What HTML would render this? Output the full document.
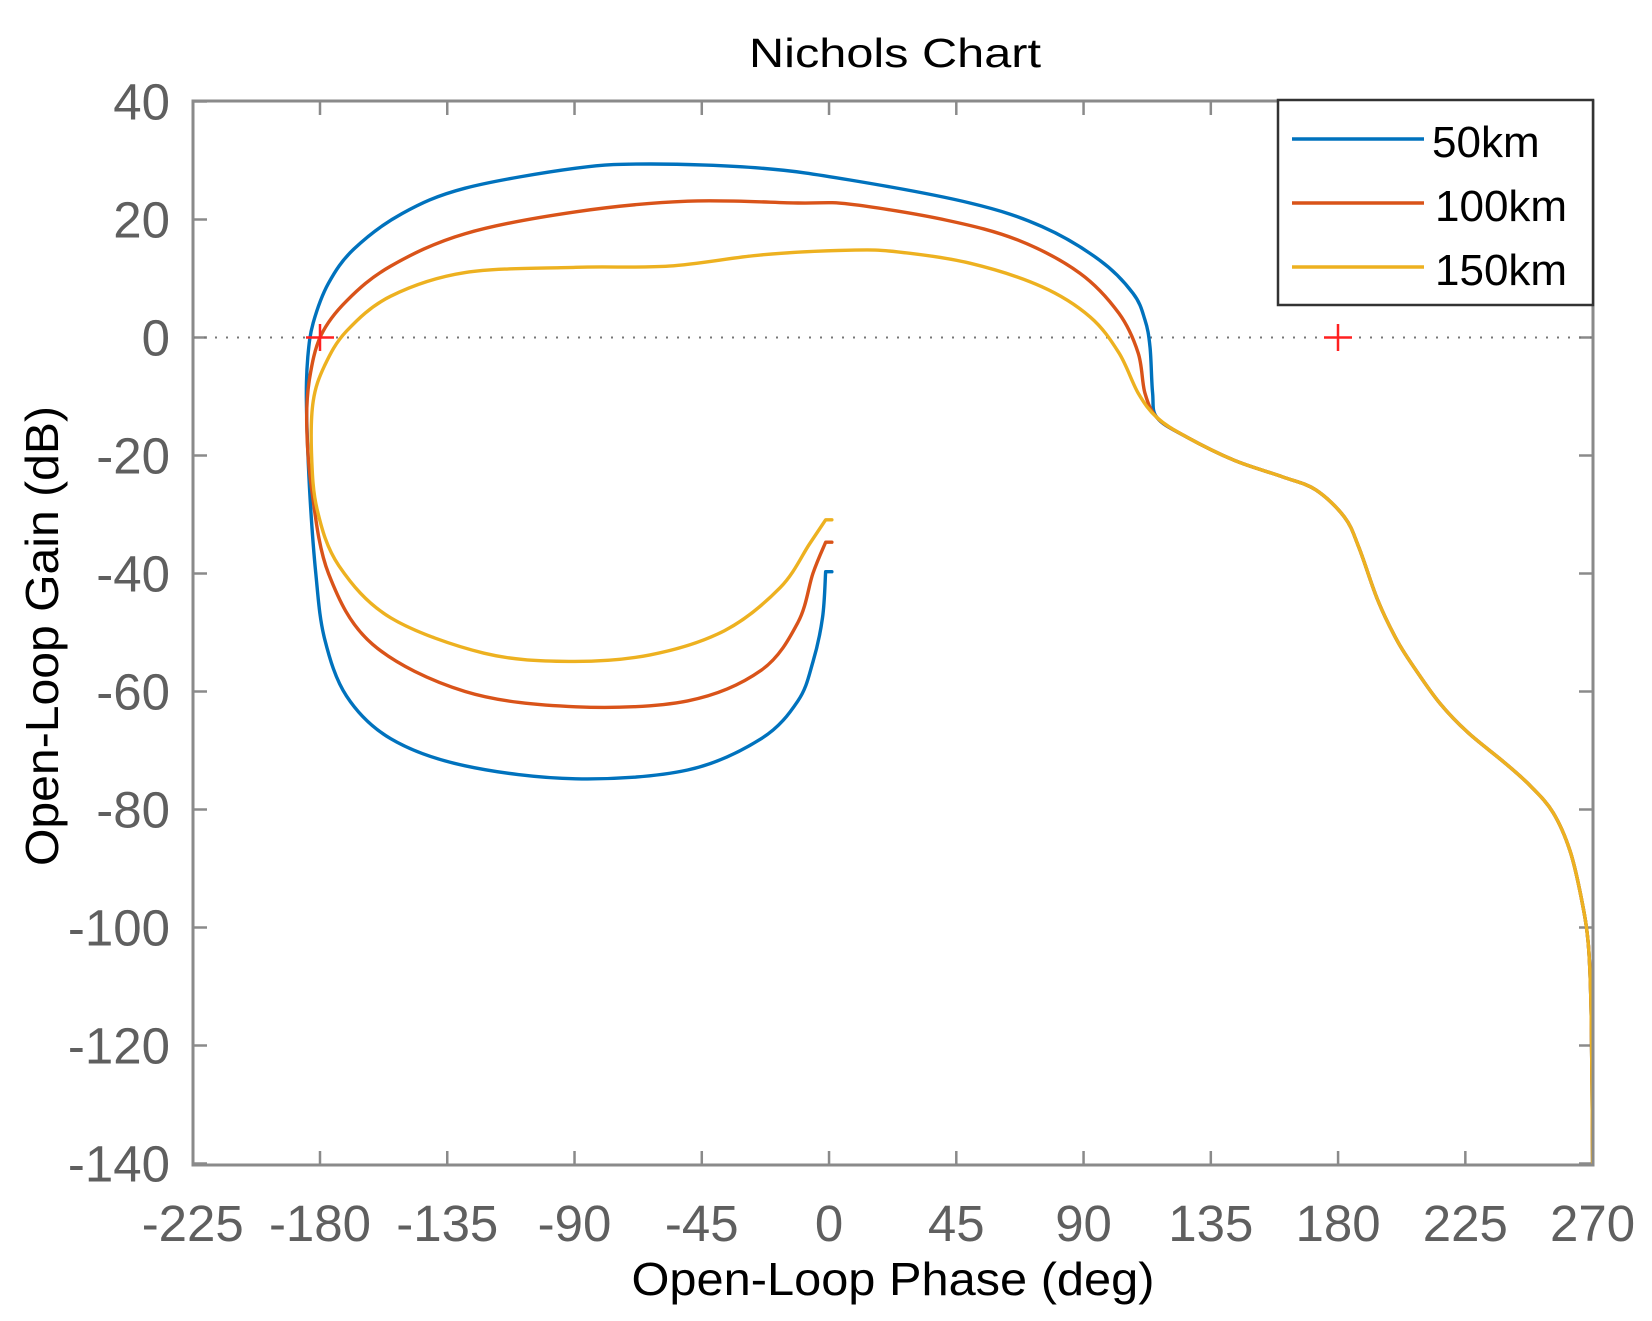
<!DOCTYPE html>
<html><head><meta charset="utf-8"><style>
html,body{margin:0;padding:0;background:#fff;}
svg{display:block;}
text{font-family:"Liberation Sans",Arial,sans-serif;}
</style></head><body>
<svg id="s" width="1652" height="1321" viewBox="0 0 1652 1321" xmlns="http://www.w3.org/2000/svg">
<rect width="1652" height="1321" fill="#fff"/>
<text x="895" y="67" font-size="41" text-anchor="middle" fill="#000" textLength="292" lengthAdjust="spacingAndGlyphs">Nichols Chart</text>
<g id="ticks"></g>
<line x1="193" y1="337.5" x2="1593" y2="337.5" stroke="#777" stroke-width="2" stroke-dasharray="2,9"/>
<g id="curves" fill="none" stroke-width="3.4" stroke-linejoin="round" stroke-linecap="round"></g>
<g stroke="#ff2020" stroke-width="2.5">
<line x1="306" y1="337.5" x2="334" y2="337.5"/><line x1="320" y1="324" x2="320" y2="351"/>
<line x1="1324" y1="337.5" x2="1352" y2="337.5"/><line x1="1338" y1="324" x2="1338" y2="351"/>
</g>
<rect x="193" y="101" width="1400" height="1064" fill="none" stroke="#8a8a8a" stroke-width="3"/>
<rect x="1278" y="100" width="315" height="205" fill="#fff" stroke="#333" stroke-width="2.5"/>
<line x1="1292" y1="139" x2="1424" y2="139" stroke="#0072BD" stroke-width="3.5"/>
<line x1="1292" y1="203" x2="1424" y2="203" stroke="#D95319" stroke-width="3.5"/>
<line x1="1292" y1="267" x2="1424" y2="267" stroke="#EDB120" stroke-width="3.5"/>
<text x="1432" y="157" font-size="44" fill="#000">50km</text>
<text x="1435" y="221" font-size="44" fill="#000">100km</text>
<text x="1435" y="285" font-size="44" fill="#000">150km</text>
<text x="893" y="1295" font-size="46" text-anchor="middle" fill="#000" textLength="523" lengthAdjust="spacingAndGlyphs">Open-Loop Phase (deg)</text>
<text transform="translate(58,636) rotate(-90)" font-size="46" text-anchor="middle" fill="#000" textLength="460" lengthAdjust="spacingAndGlyphs">Open-Loop Gain (dB)</text>
</svg>
<script>
const NS="http://www.w3.org/2000/svg";
const X=p=>320+(p+180)*2.828, Y=g=>337.5-g*5.9;
const tk=document.getElementById('ticks');
function el(t,a,txt){const e=document.createElementNS(NS,t);for(const k in a)e.setAttribute(k,a[k]);if(txt!==undefined)e.textContent=txt;tk.appendChild(e);return e;}
for(let p=-225;p<=270;p+=45){const x=X(p);
 el('line',{x1:x,y1:1165,x2:x,y2:1151,stroke:'#8a8a8a','stroke-width':2.5});
 el('line',{x1:x,y1:101,x2:x,y2:115,stroke:'#8a8a8a','stroke-width':2.5});
 el('text',{x:x,y:1241,'font-size':51,'text-anchor':'middle',fill:'#5f5f5f'},String(p));}
for(let g=40;g>=-140;g-=20){const y=Y(g);
 el('line',{x1:193,y1:y,x2:207,y2:y,stroke:'#8a8a8a','stroke-width':2.5});
 el('line',{x1:1593,y1:y,x2:1579,y2:y,stroke:'#8a8a8a','stroke-width':2.5});
 el('text',{x:170,y:y+18,'font-size':51,'text-anchor':'end',fill:'#5f5f5f'},String(g));}
const tail=[[116,-13.6],[126.2,-16.8],[143.2,-20.8],[160.2,-23.6],[172,-25.8],[182.2,-30.4],[187.3,-35.5],[194,-44.5],[200.8,-51.3],[207,-56],[216,-62],[226,-67],[238.7,-72],[248,-76],[256,-80.5],[262,-87],[266,-95],[268.5,-103],[269.5,-115],[270,-140]];
const blue=[[-1.2,-39.7],[-2.3,-47.5],[-5.7,-55],[-11,-61.6],[-24,-68],[-50,-73.3],[-89.5,-74.8],[-128.7,-72.6],[-155,-68],[-170.6,-60.8],[-178.4,-51],[-181.5,-40],[-183.7,-25.5],[-184.8,-10.8],[-184.3,-3.3],[-182.4,2.5],[-177,9.2],[-168,15],[-151,21],[-128.7,25.3],[-89.5,28.7],[-63,29.4],[-24,28.7],[7.4,26.7],[49.8,22.8],[75.3,18.8],[95.7,13.1],[107.5,7.5],[111.7,3],[113.5,-1.6],[114.4,-9.4]].concat(tail);
const red=[[-1.2,-34.7],[-5.7,-40],[-11,-48.3],[-24,-56.4],[-50,-61.6],[-89.5,-62.6],[-128.7,-60],[-161.4,-52],[-177,-40],[-183,-25.5],[-184.7,-14.4],[-183.7,-7],[-179.7,0.3],[-170.6,6.2],[-155,12.1],[-128.7,17.6],[-89.5,21.3],[-50,23.1],[-11,22.8],[7.4,22.6],[41.4,19.9],[66.8,16.5],[88.7,10.9],[102.5,4.1],[109.3,-2.6],[111.7,-9.4]].concat(tail);
const yel=[[-1.2,-30.9],[-6.9,-35],[-17.3,-42.4],[-37,-49.7],[-63.3,-53.8],[-92,-54.9],[-122,-53.5],[-155,-47.5],[-173.3,-38.7],[-181,-29.2],[-183,-19.6],[-182.4,-10.8],[-178.4,-4.8],[-170.6,1.1],[-155,7],[-128.7,11],[-89.5,11.9],[-56.6,12.1],[-24,14],[7.4,14.8],[24.4,14.5],[49.8,12.6],[75.3,8.6],[92.3,3.5],[102.5,-2.6],[109.3,-9.4]].concat(tail);
function path(d,c){const P=d.map(q=>[X(q[0]),Y(q[1])]);
 let s=`M${X(1)},${P[0][1]} L${P[0][0]},${P[0][1]}`;
 for(let i=0;i<P.length-1;i++){const p0=P[Math.max(0,i-1)],p1=P[i],p2=P[i+1],p3=P[Math.min(P.length-1,i+2)];
  const c1=[p1[0]+(p2[0]-p0[0])/6,p1[1]+(p2[1]-p0[1])/6],c2=[p2[0]-(p3[0]-p1[0])/6,p2[1]-(p3[1]-p1[1])/6];
  s+=` C${c1[0].toFixed(1)},${c1[1].toFixed(1)} ${c2[0].toFixed(1)},${c2[1].toFixed(1)} ${p2[0].toFixed(1)},${p2[1].toFixed(1)}`;}
 const e=document.createElementNS(NS,'path');e.setAttribute('d',s);e.setAttribute('stroke',c);document.getElementById('curves').appendChild(e);}
path(blue,'#0072BD');path(red,'#D95319');path(yel,'#EDB120');
</script>
</body></html>
